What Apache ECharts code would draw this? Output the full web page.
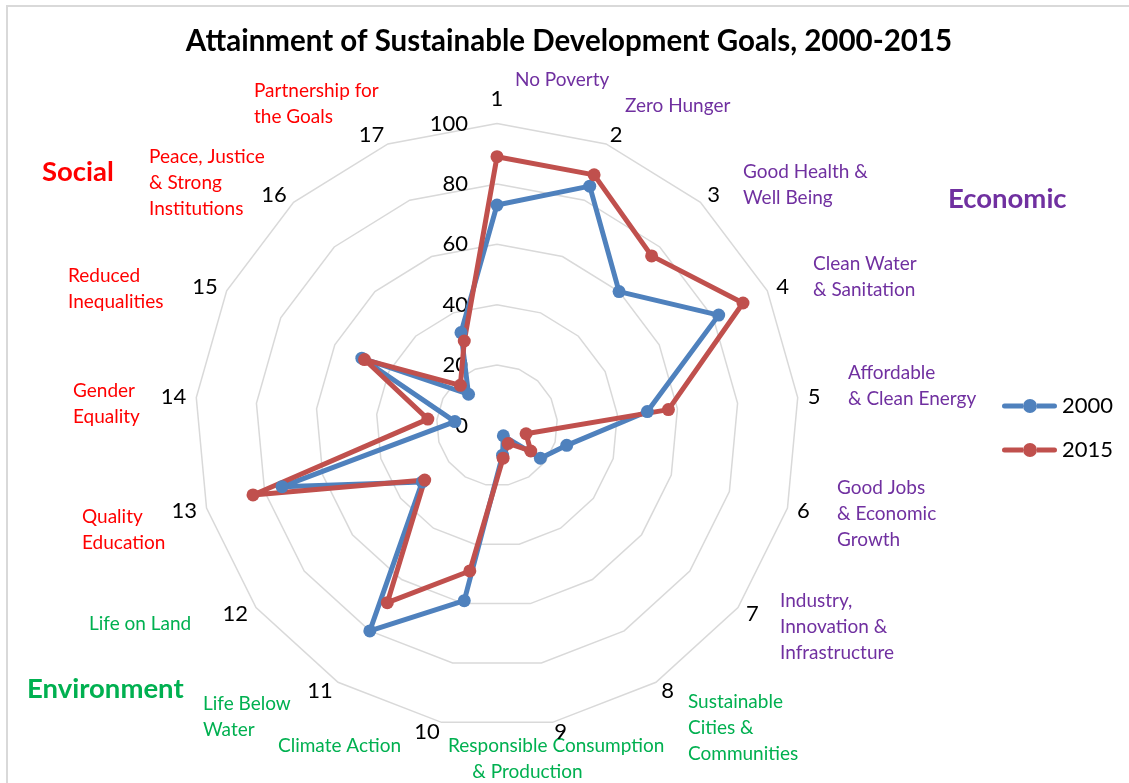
<!DOCTYPE html>
<html>
<head>
<meta charset="utf-8">
<script src="https://cdn.jsdelivr.net/npm/echarts@6/dist/echarts.min.js"></script>
<style>
html,body{margin:0;padding:0;background:#fff;}
#chart{width:1129px;height:783px;}
</style>
</head>
<body>
<div id="chart"></div>
<script>
// ---- data ----
var goalNumbers = ['1','2','3','4','5','6','7','8','9','10','11','12','13','14','15','16','17'];
var goalNames = [
  'No Poverty', 'Zero Hunger', 'Good Health &\nWell Being', 'Clean Water\n& Sanitation',
  'Affordable\n& Clean Energy', 'Good Jobs\n& Economic\nGrowth', 'Industry,\nInnovation &\nInfrastructure',
  'Sustainable\nCities &\nCommunities', 'Responsible Consumption\n     & Production', 'Climate Action',
  'Life Below\nWater', 'Life on Land', 'Quality\nEducation', 'Gender\nEquality',
  'Reduced\nInequalities', 'Peace, Justice\n& Strong\nInstitutions', 'Partnership for\nthe Goals'
];
var goalGroup = ['eco','eco','eco','eco','eco','eco','eco','env','env','env','env','env','soc','soc','soc','soc','soc'];
var seriesNames = ['2000', '2015'];
var values2000 = [73, 85, 60, 82, 50, 24, 18, 4, 10, 59, 80, 31, 74, 14, 50, 14, 33];
var values2015 = [89, 89, 76, 91, 57, 10, 14, 7, 11, 49, 69, 30, 84, 23, 49, 18, 30];
var groupNames = {soc: 'Social', eco: 'Economic', env: 'Environment'};

// ---- layout / style ----
var groupColors = {eco: '#7030A0', env: '#00B050', soc: '#FF0000'};
var nameLabelPos = [
  [515, 80], [625, 106], [743, 172], [813, 264], [848, 373], [837, 488], [780, 601],
  [688, 702], [448, 746], [278, 746], [203, 704], [89, 624], [82, 517], [73, 391],
  [68, 276], [149, 157], [254, 91]
];
var groupLabelPos = {soc: [42, 172], eco: [948, 199], env: [27, 689]};

var graphics = [{
  type: 'rect', z: -1, silent: true,
  shape: {x: 7, y: 6, width: 1200, height: 900},
  style: {fill: 'none', stroke: '#D9D9D9', lineWidth: 2}
}];
goalNames.forEach(function (t, i) {
  graphics.push({
    type: 'text', silent: true,
    x: nameLabelPos[i][0], y: nameLabelPos[i][1] - 13,
    style: {
      text: t, fill: groupColors[goalGroup[i]],
      font: '19px Lato', lineHeight: 26, textVerticalAlign: 'top', textAlign: 'left'
    }
  });
});
Object.keys(groupNames).forEach(function (k) {
  graphics.push({
    type: 'text', silent: true,
    x: groupLabelPos[k][0], y: groupLabelPos[k][1],
    style: {
      text: groupNames[k], fill: groupColors[k],
      font: 'bold 27.5px Lato', textVerticalAlign: 'middle', textAlign: 'left'
    }
  });
});

// ECharts radar runs counter-clockwise; reorder so goals run clockwise from the top.
var order = [0];
for (var k = goalNumbers.length - 1; k >= 1; k--) order.push(k);

var indicators = order.map(function (i, pos) {
  var ind = {name: goalNumbers[i], min: 0, max: 100};
  if (pos === 0) {
    ind.axisLabel = {show: true, margin: 29, color: '#000', fontSize: 22, fontFamily: 'Lato'};
    ind.nameGap = 14;
  }
  return ind;
});
function reorder(arr) { return order.map(function (i) { return arr[i]; }); }

var legendIcon = 'path://M2.5,4.5 L21,4.5 L21,9.5 L2.5,9.5 A2.5,2.5 0 0 1 2.5,4.5 Z ' +
  'M35,4.5 L52.5,4.5 A2.5,2.5 0 0 1 52.5,9.5 L35,9.5 Z ' +
  'M21,7 A7,7 0 1 1 35,7 A7,7 0 1 1 21,7 Z';

var chart = echarts.init(document.getElementById('chart'));
chart.setOption({
  animation: false,
  backgroundColor: '#fff',
  title: {
    text: 'Attainment of Sustainable Development Goals, 2000-2015',
    left: 564, top: 21, textAlign: 'center',
    textStyle: {fontFamily: 'Lato', fontWeight: 'bold', fontSize: 29.5, color: '#000'}
  },
  legend: {
    orient: 'vertical', left: 997, top: 390,
    itemWidth: 55, itemHeight: 14, itemGap: 22,
    icon: legendIcon,
    textStyle: {fontFamily: 'Lato', fontSize: 22, color: '#000'},
    data: seriesNames
  },
  graphic: graphics,
  radar: {
    center: [497, 425.5],
    radius: 302,
    startAngle: 90,
    shape: 'polygon',
    splitNumber: 5,
    indicator: indicators,
    nameGap: 10,
    axisName: {color: '#000', fontSize: 22, fontFamily: 'Lato'},
    axisLine: {show: false},
    axisTick: {show: false},
    axisLabel: {show: false},
    splitLine: {lineStyle: {color: '#D9D9D9', width: 1.5}},
    splitArea: {show: false}
  },
  series: [{
    type: 'radar',
    symbol: 'circle', symbolSize: 13,
    data: [
      {name: seriesNames[0], value: reorder(values2000),
       lineStyle: {color: '#4F81BD', width: 5}, itemStyle: {color: '#4F81BD'}},
      {name: seriesNames[1], value: reorder(values2015),
       lineStyle: {color: '#C0504D', width: 5}, itemStyle: {color: '#C0504D'}}
    ]
  }]
});
</script>
</body>
</html>
